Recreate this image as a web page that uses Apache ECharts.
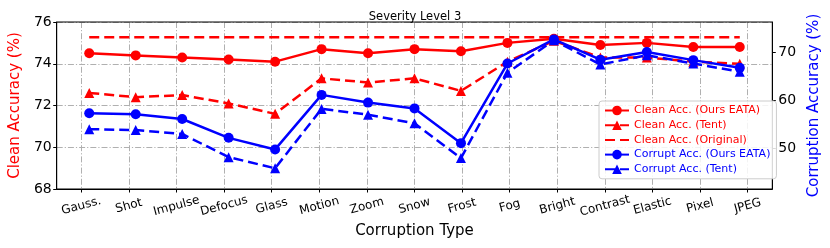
<!DOCTYPE html>
<html><head><meta charset="utf-8">
<script src="https://cdn.jsdelivr.net/npm/echarts@6/dist/echarts.min.js"></script>
<style>html,body{margin:0;padding:0;background:#fff}#c{width:830px;height:248px}</style>
</head><body><div id="c"></div>
<script>
const categories = ['Gauss.','Shot','Impulse','Defocus','Glass','Motion','Zoom','Snow','Frost','Fog','Bright','Contrast','Elastic','Pixel','JPEG'];
const cleanEATA = [74.5,74.4,74.3,74.2,74.1,74.7,74.5,74.7,74.6,75.0,75.2,74.9,75.0,74.8,74.8];
const cleanTent = [72.6,72.4,72.5,72.1,71.6,73.3,73.1,73.3,72.7,74.1,75.1,74.3,74.3,74.1,74.0];
const cleanOriginal = [75.27,75.27,75.27,75.27,75.27,75.27,75.27,75.27,75.27,75.27,75.27,75.27,75.27,75.27,75.27];
const corruptEATA = [57.3,57.1,56.1,52.2,49.8,61.1,59.5,58.3,51.1,67.6,72.6,68.4,70.0,68.3,66.7];
const corruptTent = [54.0,53.8,53.0,48.2,45.9,58.2,57.0,55.2,48.0,65.7,72.4,67.4,69.3,67.6,65.9];
const leftTicks = [68,70,72,74,76];
const rightTicks = [50,60,70];

const FONT = 'DejaVu Sans';
const RED = '#ff0000', BLUE = '#0000ff';
const pts = arr => arr.map((v,i)=>[i,v]);
const GRIDC = '#b0b0b0';
const dashDot = [6, 2, 1.2, 2];

// plot frame 48..781 px ; x data range -0.7..14.7
const L = 48, R = 781, T = 22, B = 189, W = 830, H = 248;
const unit = (R - L) / 15.4;
const innerL = L + 0.7 * unit, innerR = R - 0.7 * unit;

const chart = echarts.init(document.getElementById('c'), null, {renderer:'canvas'});
chart.setOption({
  animation:false,
  backgroundColor:'#fff',
  textStyle:{fontFamily:FONT},
  title:{text:'Severity Level 3', left:'center', top:6,
    textStyle:{fontFamily:FONT, fontSize:11.5, fontWeight:'normal', color:'#000'}},
  grid:[
    {left:L, right:W-R, top:T, bottom:H-B, show:true, borderColor:'#000', borderWidth:1, backgroundColor:'transparent', z:3},
    {left:innerL, right:W-innerR, top:T, bottom:H-B, show:false}
  ],
  legend:{
    orient:'vertical', left:599, top:101, padding:[4,6,4,5], itemGap:3.7,
    itemWidth:24, itemHeight:12,
    backgroundColor:'rgba(255,255,255,0.85)', borderColor:'#cccccc', borderWidth:1, borderRadius:3,
    textStyle:{fontFamily:FONT, fontSize:11},
    data:[
      {name:'Clean Acc. (Ours EATA)', textStyle:{color:RED}},
      {name:'Clean Acc. (Tent)', textStyle:{color:RED}},
      {name:'Clean Acc. (Original)', textStyle:{color:RED}, itemStyle:{opacity:0}},
      {name:'Corrupt Acc. (Ours EATA)', textStyle:{color:BLUE}},
      {name:'Corrupt Acc. (Tent)', textStyle:{color:BLUE}}
    ]
  },
  xAxis:[{
    gridIndex:0, type:'value', min:-0.7, max:14.7,
    name:'Corruption Type', nameLocation:'middle', nameGap:35,
    nameTextStyle:{fontFamily:FONT, fontSize:15, color:'#000'},
    axisLine:{show:true, onZero:false, lineStyle:{color:'#000', width:1}},
    axisTick:{show:false}, axisLabel:{show:false}, splitLine:{show:false}
  },{
    gridIndex:1, type:'value', min:0, max:categories.length-1, interval:1,
    axisLine:{show:false, onZero:false},
    axisTick:{show:true, inside:false, length:3.5, lineStyle:{color:'#000'}},
    axisLabel:{rotate:15, align:'center', verticalAlign:'middle', margin:17,
      fontFamily:FONT, fontSize:12, color:'#000', formatter:v=>categories[Math.round(v)]},
    splitLine:{show:true, lineStyle:{color:GRIDC, width:1, type:dashDot}}
  }],
  yAxis:[{
    gridIndex:0, type:'value', min:leftTicks[0], max:leftTicks[leftTicks.length-1], interval:2, position:'left',
    name:'Clean Accuracy (%)', nameLocation:'middle', nameGap:27, nameRotate:90,
    nameTextStyle:{fontFamily:FONT, fontSize:15, color:RED},
    axisLine:{show:true, onZero:false, lineStyle:{color:'#000'}},
    axisTick:{show:true, length:3.5, lineStyle:{color:'#000'}},
    axisLabel:{margin:5, fontFamily:FONT, fontSize:14, color:'#000'},
    splitLine:{show:true, lineStyle:{color:GRIDC, width:1, type:dashDot}}
  },{
    gridIndex:0, type:'value', min:41.6, max:76.2, position:'right',
    name:'Corruption Accuracy (%)', nameLocation:'middle', nameGap:27, nameRotate:90,
    nameTextStyle:{fontFamily:FONT, fontSize:15, color:BLUE},
    axisLine:{show:true, onZero:false, lineStyle:{color:'#000'}},
    axisTick:{show:true, length:3.5, customValues:rightTicks, lineStyle:{color:'#000'}},
    axisLabel:{margin:6, customValues:rightTicks, fontFamily:FONT, fontSize:14, color:'#000'},
    splitLine:{show:false}
  },{
    gridIndex:1, type:'value', min:0, max:1, show:false
  }],
  series:[
    {name:'Clean Acc. (Ours EATA)', type:'line', xAxisIndex:0, yAxisIndex:0, data:pts(cleanEATA), z:4,
      symbol:'circle', symbolSize:10, itemStyle:{color:RED}, lineStyle:{color:RED, width:2.5, type:'solid'}},
    {name:'Clean Acc. (Tent)', type:'line', xAxisIndex:0, yAxisIndex:0, data:pts(cleanTent), z:4,
      symbol:'triangle', symbolSize:10, itemStyle:{color:RED}, lineStyle:{color:RED, width:2.5, type:[10,5]}},
    {name:'Clean Acc. (Original)', type:'line', xAxisIndex:0, yAxisIndex:0, data:pts(cleanOriginal), z:4,
      symbol:'none', itemStyle:{color:RED}, lineStyle:{color:RED, width:2.5, type:[10,5]}},
    {name:'Corrupt Acc. (Ours EATA)', type:'line', xAxisIndex:0, yAxisIndex:1, data:pts(corruptEATA), z:5,
      symbol:'circle', symbolSize:10, itemStyle:{color:BLUE}, lineStyle:{color:BLUE, width:2.5, type:'solid'}},
    {name:'Corrupt Acc. (Tent)', type:'line', xAxisIndex:0, yAxisIndex:1, data:pts(corruptTent), z:5,
      symbol:'triangle', symbolSize:10, itemStyle:{color:BLUE}, lineStyle:{color:BLUE, width:2.5, type:[10,5]}}
  ]
});
</script></body></html>
